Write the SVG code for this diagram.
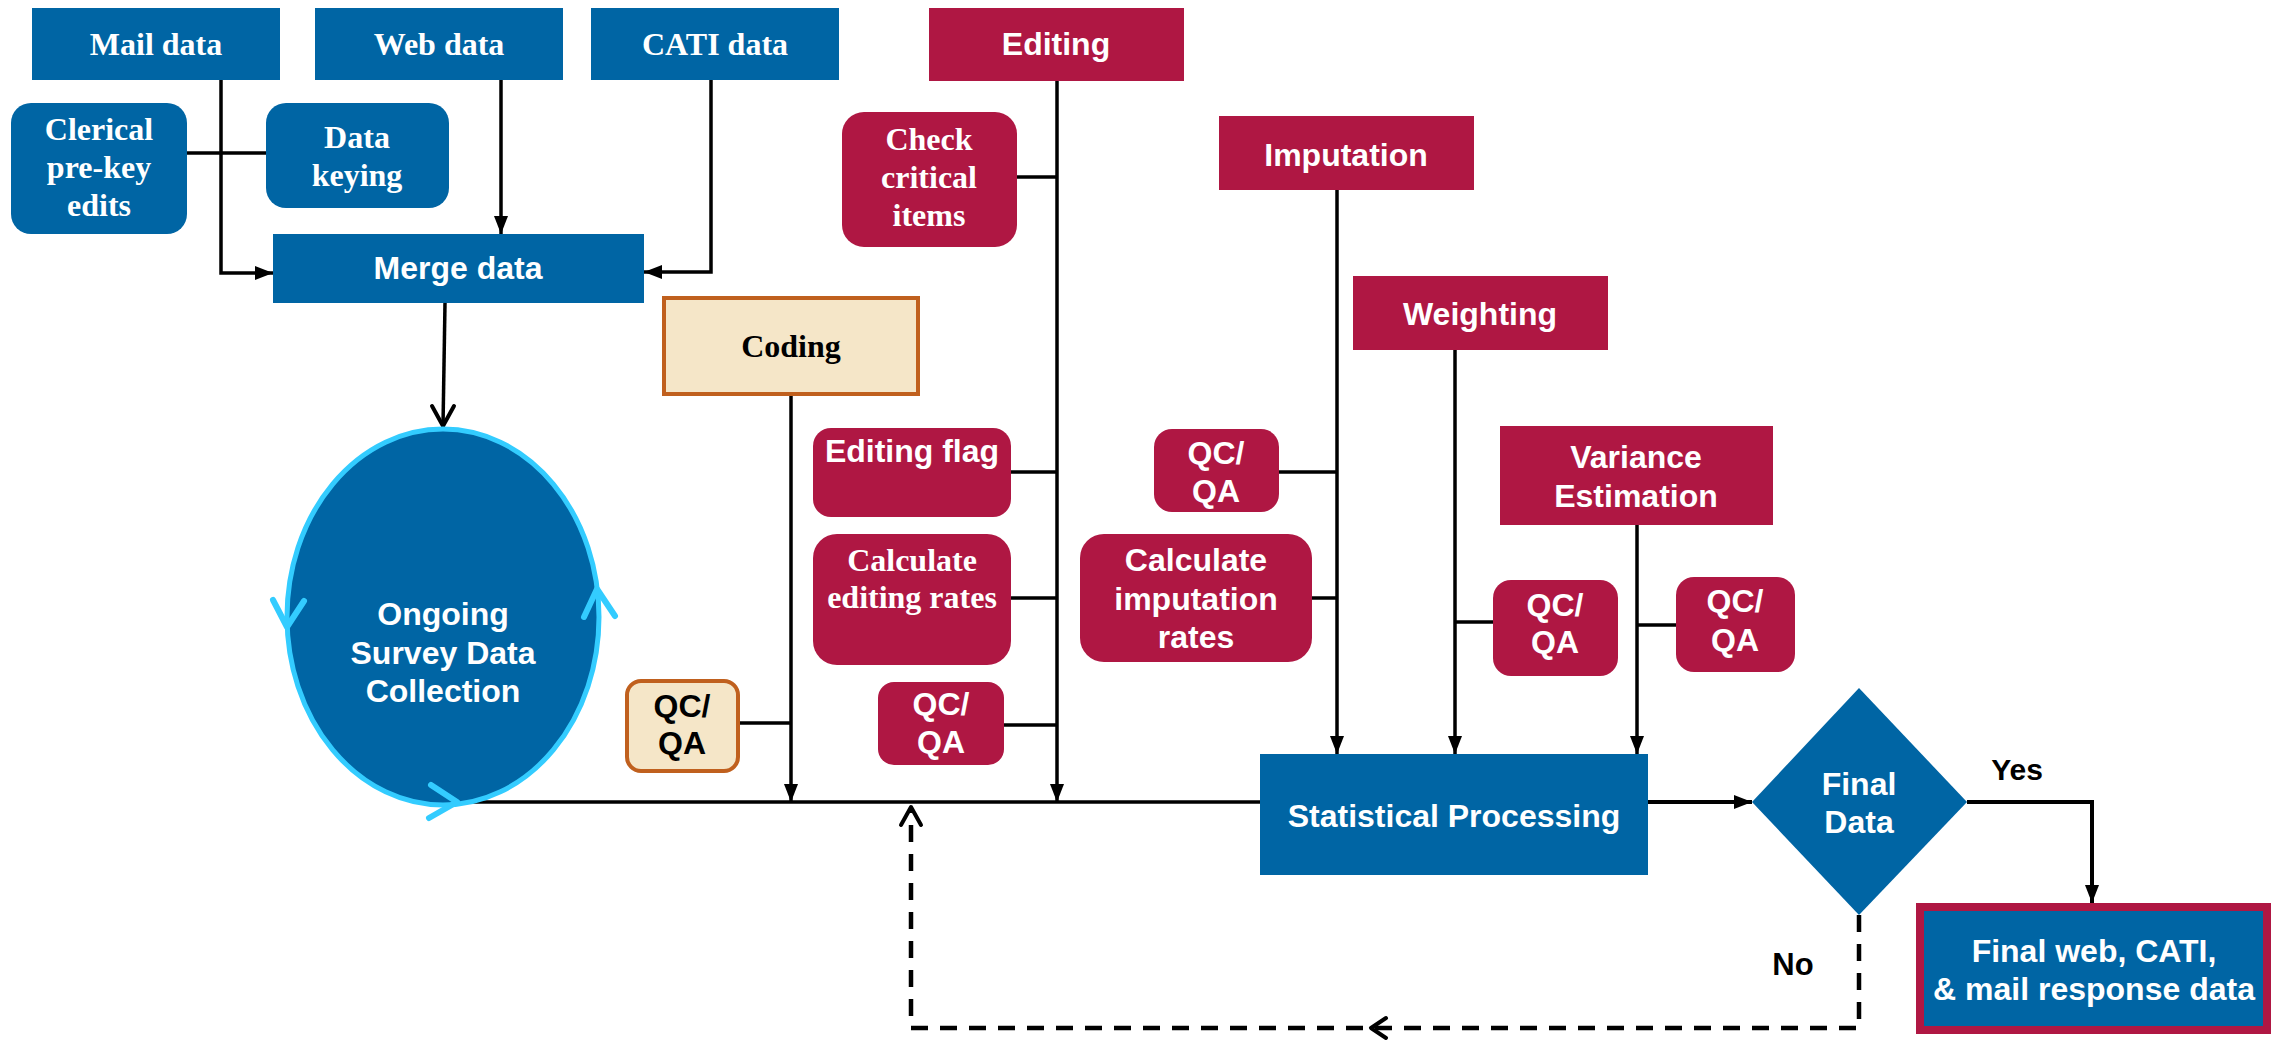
<svg xmlns="http://www.w3.org/2000/svg" width="2282" height="1041" viewBox="0 0 2282 1041">
  <style>
    .blue { fill: #0065A4; }
    .red { fill: #AF1743; }
    .tan { fill: #F5E6C8; stroke: #C0601E; stroke-width: 4; }
    .serif { font-family: "Liberation Serif", "Times New Roman", serif; font-weight: bold; font-size: 32px; text-anchor: middle; }
    .sans { font-family: "Liberation Sans", Arial, sans-serif; font-weight: bold; font-size: 32px; text-anchor: middle; }
    .w { fill: #FFFFFF; }
    .k { fill: #000000; }
    .line { fill: none; stroke: #000000; stroke-width: 3.5; }
    .dash { fill: none; stroke: #000000; stroke-width: 4.5; stroke-dasharray: 17 12; }
    .chev { fill: none; stroke: #000000; stroke-width: 4; stroke-linecap: round; stroke-linejoin: round; }
    .cyan { fill: none; stroke: #33CCFF; stroke-width: 6; stroke-linecap: round; stroke-linejoin: round; }
  </style>
  <defs>
    <marker id="arrow" viewBox="0 0 18 14" refX="18" refY="7" markerWidth="18" markerHeight="14" markerUnits="userSpaceOnUse" orient="auto">
      <path d="M0,0 L18,7 L0,14 Z" fill="#000000"/>
    </marker>
  </defs>

  <rect width="2282" height="1041" fill="#FFFFFF"/>

  <!-- connectors -->
  <g id="connectors">
    <path class="line" d="M221,80 V273 H273" marker-end="url(#arrow)"/>
    <path class="line" d="M187,153 H266"/>
    <path class="line" d="M501,80 V234" marker-end="url(#arrow)"/>
    <path class="line" d="M711,80 V272 H644" marker-end="url(#arrow)"/>
    <path class="line" d="M445,303 L443,426"/>
    <path class="chev" d="M432,406 L443,426 L454,406"/>
    <path class="line" d="M459,802 H1260"/>
    <path class="line" d="M791,396 V802" marker-end="url(#arrow)"/>
    <path class="line" d="M740,723 H791"/>
    <path class="line" d="M1057,81 V802" marker-end="url(#arrow)"/>
    <path class="line" d="M1017,177 H1057"/>
    <path class="line" d="M1011,472 H1057"/>
    <path class="line" d="M1011,598 H1057"/>
    <path class="line" d="M1004,725 H1057"/>
    <path class="line" d="M1337,190 V754" marker-end="url(#arrow)"/>
    <path class="line" d="M1279,472 H1337"/>
    <path class="line" d="M1312,598 H1337"/>
    <path class="line" d="M1455,350 V754" marker-end="url(#arrow)"/>
    <path class="line" d="M1455,622 H1493"/>
    <path class="line" d="M1637,525 V754" marker-end="url(#arrow)"/>
    <path class="line" d="M1637,625 H1676"/>
    <path class="line" d="M1648,802 H1752" style="stroke-width:4" marker-end="url(#arrow)"/>
    <path class="line" d="M1967,802 H2092 V903" style="stroke-width:4" marker-end="url(#arrow)"/>
    <path class="dash" d="M1859,915 V1028 H911 V810"/>
    <path class="chev" d="M901,825 L911,807 L921,825"/>
    <path class="chev" d="M1386,1018 L1371,1028 L1386,1038"/>
    <text class="sans k" x="2017" y="780" style="font-size:30px">Yes</text>
    <text class="sans k" x="1793" y="975" style="font-size:31px">No</text>
  </g>

  <!-- data sources -->
  <g id="mail-data">
    <rect class="blue" x="32" y="8" width="248" height="72"/>
    <text class="serif w" x="156" y="55">Mail data</text>
  </g>
  <g id="web-data">
    <rect class="blue" x="315" y="8" width="248" height="72"/>
    <text class="serif w" x="439" y="55">Web data</text>
  </g>
  <g id="cati-data">
    <rect class="blue" x="591" y="8" width="248" height="72"/>
    <text class="serif w" x="715" y="55">CATI data</text>
  </g>
  <g id="clerical-edits">
    <rect class="blue" x="11" y="103" width="176" height="131" rx="20"/>
    <text class="serif w" x="99" y="140">Clerical</text>
    <text class="serif w" x="99" y="178">pre-key</text>
    <text class="serif w" x="99" y="216">edits</text>
  </g>
  <g id="data-keying">
    <rect class="blue" x="266" y="103" width="183" height="105" rx="20"/>
    <text class="serif w" x="357" y="148">Data</text>
    <text class="serif w" x="357" y="186">keying</text>
  </g>
  <g id="merge-data">
    <rect class="blue" x="273" y="234" width="371" height="69"/>
    <text class="sans w" x="458" y="279">Merge data</text>
  </g>

  <!-- collection loop -->
  <g id="ongoing-collection">
    <ellipse cx="443" cy="617" rx="156" ry="188" fill="#0065A4" stroke="#33CCFF" stroke-width="5"/>
    <path class="cyan" d="M273,600 L287,627 L304,601"/>
    <path class="cyan" d="M584,617 L597,589 L615,616"/>
    <path class="cyan" d="M431,785 L457,802 L429,818"/>
    <text class="sans w" x="443" y="625">Ongoing</text>
    <text class="sans w" x="443" y="664">Survey Data</text>
    <text class="sans w" x="443" y="702">Collection</text>
  </g>

  <!-- coding -->
  <g id="coding">
    <rect class="tan" x="664" y="298" width="254" height="96"/>
    <text class="serif k" x="791" y="357">Coding</text>
  </g>
  <g id="coding-qc">
    <rect class="tan" x="627" y="681" width="111" height="90" rx="14"/>
    <text class="sans k" x="682" y="717">QC/</text>
    <text class="sans k" x="682" y="754">QA</text>
  </g>

  <!-- editing -->
  <g id="editing">
    <rect class="red" x="929" y="8" width="255" height="73"/>
    <text class="sans w" x="1056" y="55">Editing</text>
  </g>
  <g id="check-critical">
    <rect class="red" x="842" y="112" width="175" height="135" rx="22"/>
    <text class="serif w" x="929" y="150">Check</text>
    <text class="serif w" x="929" y="188">critical</text>
    <text class="serif w" x="929" y="226">items</text>
  </g>
  <g id="editing-flag">
    <rect class="red" x="813" y="428" width="198" height="89" rx="18"/>
    <text class="sans w" x="912" y="462">Editing flag</text>
  </g>
  <g id="editing-rates">
    <rect class="red" x="813" y="534" width="198" height="131" rx="24"/>
    <text class="serif w" x="912" y="571">Calculate</text>
    <text class="serif w" x="912" y="608">editing rates</text>
  </g>
  <g id="editing-qc">
    <rect class="red" x="878" y="682" width="126" height="83" rx="16"/>
    <text class="sans w" x="941" y="715">QC/</text>
    <text class="sans w" x="941" y="753">QA</text>
  </g>

  <!-- imputation -->
  <g id="imputation">
    <rect class="red" x="1219" y="116" width="255" height="74"/>
    <text class="sans w" x="1346" y="166">Imputation</text>
  </g>
  <g id="imputation-qc">
    <rect class="red" x="1154" y="429" width="125" height="83" rx="18"/>
    <text class="sans w" x="1216" y="464">QC/</text>
    <text class="sans w" x="1216" y="502">QA</text>
  </g>
  <g id="imputation-rates">
    <rect class="red" x="1080" y="534" width="232" height="128" rx="24"/>
    <text class="sans w" x="1196" y="571">Calculate</text>
    <text class="sans w" x="1196" y="610">imputation</text>
    <text class="sans w" x="1196" y="648">rates</text>
  </g>

  <!-- weighting -->
  <g id="weighting">
    <rect class="red" x="1353" y="276" width="255" height="74"/>
    <text class="sans w" x="1480" y="325">Weighting</text>
  </g>
  <g id="weighting-qc">
    <rect class="red" x="1493" y="580" width="125" height="96" rx="18"/>
    <text class="sans w" x="1555" y="616">QC/</text>
    <text class="sans w" x="1555" y="653">QA</text>
  </g>

  <!-- variance -->
  <g id="variance-estimation">
    <rect class="red" x="1500" y="426" width="273" height="99"/>
    <text class="sans w" x="1636" y="468">Variance</text>
    <text class="sans w" x="1636" y="507">Estimation</text>
  </g>
  <g id="variance-qc">
    <rect class="red" x="1676" y="577" width="119" height="95" rx="18"/>
    <text class="sans w" x="1735" y="612">QC/</text>
    <text class="sans w" x="1735" y="651">QA</text>
  </g>

  <!-- processing and output -->
  <g id="statistical-processing">
    <rect class="blue" x="1260" y="754" width="388" height="121"/>
    <text class="sans w" x="1454" y="827">Statistical Processing</text>
  </g>
  <g id="final-data">
    <polygon class="blue" points="1859,688 1967,802 1859,915 1752,802"/>
    <text class="sans w" x="1859" y="795">Final</text>
    <text class="sans w" x="1859" y="833">Data</text>
  </g>
  <g id="final-response-data">
    <rect x="1920" y="907" width="347" height="123" fill="#0065A4" stroke="#AF1743" stroke-width="8"/>
    <text class="sans w" x="2094" y="962">Final web, CATI,</text>
    <text class="sans w" x="2094" y="1000">&amp; mail response data</text>
  </g>
</svg>
